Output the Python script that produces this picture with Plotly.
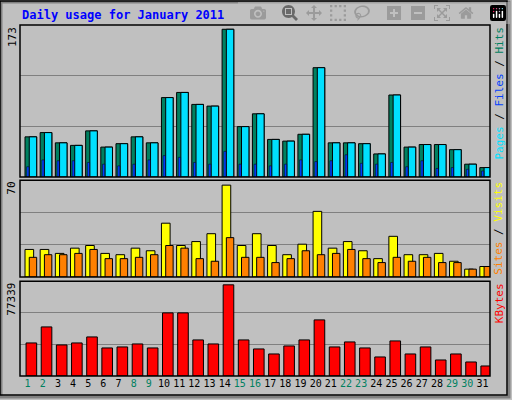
import plotly.graph_objects as go

days = list(range(1, 32))
hits = [47, 52, 40, 37, 54, 35, 39, 47, 40, 93, 99, 85, 83, 173, 59, 74,
        44, 42, 50, 128, 40, 40, 39, 27, 96, 35, 38, 38, 32, 15, 11]
files = hits
pages = [12, 20, 19, 19, 17, 15, 13, 15, 20, 25, 23, 17, 15, 30, 15, 15,
         13, 15, 20, 18, 19, 26, 16, 15, 17, 12, 19, 10, 11, 9, 7]
sites = [21, 21, 18, 22, 24, 18, 17, 22, 20, 41, 24, 27, 33, 70, 24, 33,
         24, 17, 25, 50, 22, 27, 20, 14, 31, 17, 17, 18, 12, 6, 8]
visits = [15, 17, 17, 18, 21, 14, 14, 15, 17, 24, 22, 14, 12, 30, 15, 15,
          11, 14, 20, 17, 18, 21, 14, 11, 15, 12, 15, 11, 11, 6, 8]
kbytes = [28050, 41640, 26350, 28050, 33150, 23800, 24650, 27200, 23800, 53540,
          53540, 30600, 27200, 77339, 30600, 22950, 18700, 25500, 30600, 47600,
          24650, 28900, 23800, 16150, 29750, 18700, 24650, 13600, 18700, 11900, 8500]
weekend = {1, 2, 8, 9, 15, 16, 22, 23, 29, 30}

BG = "#C0C0C0"
line = dict(color="black", width=1)
fig = go.Figure()

def bar(y, color, offset, width, axis, lw=1):
    fig.add_trace(go.Bar(x=days, y=y, marker=dict(color=color, line=dict(color="black", width=lw)),
                         offset=offset, width=width, xaxis="x", yaxis=axis,
                         showlegend=False, hoverinfo="skip"))

bar(hits, "#008060", -0.17, 0.77, "y")
bar(files, "#00E0FF", 0.11, 0.49, "y")
bar(pages, "#0040FF", -0.06, 0.15, "y", 0.5)
bar(sites, "#FFFF00", -0.17, 0.57, "y2")
bar(visits, "#FF8000", 0.11, 0.49, "y2")
bar(kbytes, "#FF0000", -0.1, 0.7, "y3")

ticktext = [f'<span style="color:{"#008060" if d in weekend else "black"}">{d}</span>' for d in days]

def yax(dom, top):
    return dict(domain=dom, range=[0, top], dtick=top / 3, showticklabels=False,
                gridcolor="#808080", gridwidth=1, zeroline=False, fixedrange=True)

fig.update_layout(
    width=512, height=400, paper_bgcolor=BG, plot_bgcolor=BG,
    margin=dict(l=20, r=22, t=25, b=24), barmode="overlay",
    font=dict(family="DejaVu Sans Mono", size=10, color="black"),
    xaxis=dict(range=[0.5, 31.5], tickvals=days, ticktext=ticktext, showgrid=False,
               ticks="", zeroline=False, anchor="y3"),
    yaxis=yax([0.567, 1], 178),
    yaxis2=yax([0.282, 0.558], 73.8),
    yaxis3=yax([0, 0.27], 80400),
)

for dom in ([0.567, 1], [0.282, 0.558], [0, 0.27]):
    fig.add_shape(type="rect", xref="paper", yref="paper", x0=0, x1=1,
                  y0=dom[0], y1=dom[1], line=dict(color="black", width=1.5))

# outer frame with bevel
fig.add_shape(type="rect", xref="paper", yref="paper", x0=-19/470, x1=(470+19)/470,
              y0=-21/351, y1=(351+23)/351, line=dict(color="#808080", width=3))
fig.add_shape(type="rect", xref="paper", yref="paper", x0=-20/470, x1=(470+17)/470,
              y0=-19/351, y1=(351+24)/351, line=dict(color="black", width=1.5))

fig.add_annotation(text="<b>Daily usage for January 2011</b>", xref="paper", yref="paper",
                   x=0, y=(351+10)/351, xanchor="left", yanchor="middle", showarrow=False,
                   font=dict(color="#0000FF", size=12))

for label, ypos in (("173", 1), ("70", 0.558), ("77339", 0.27)):
    fig.add_annotation(text=label, xref="paper", yref="paper", x=-8/470, y=ypos,
                       xanchor="center", yanchor="top", textangle=-90, showarrow=False,
                       font=dict(size=11))

right = [
    ('<span style="color:#00E0FF">Pages</span> / <span style="color:#0040FF">Files</span>'
     ' / <span style="color:#008060">Hits</span>', 1),
    ('<span style="color:#FF8000">Sites</span> / <span style="color:#FFFF00">Visits</span>', 0.558),
    ('<span style="color:#FF0000">KBytes</span>', 0.27),
]
for label, ypos in right:
    fig.add_annotation(text=label, xref="paper", yref="paper", x=(470+9)/470, y=ypos,
                       xanchor="center", yanchor="top", textangle=-90, showarrow=False,
                       font=dict(size=11))

fig.write_html("out.html", post_script="document.body.style.margin='0';")
